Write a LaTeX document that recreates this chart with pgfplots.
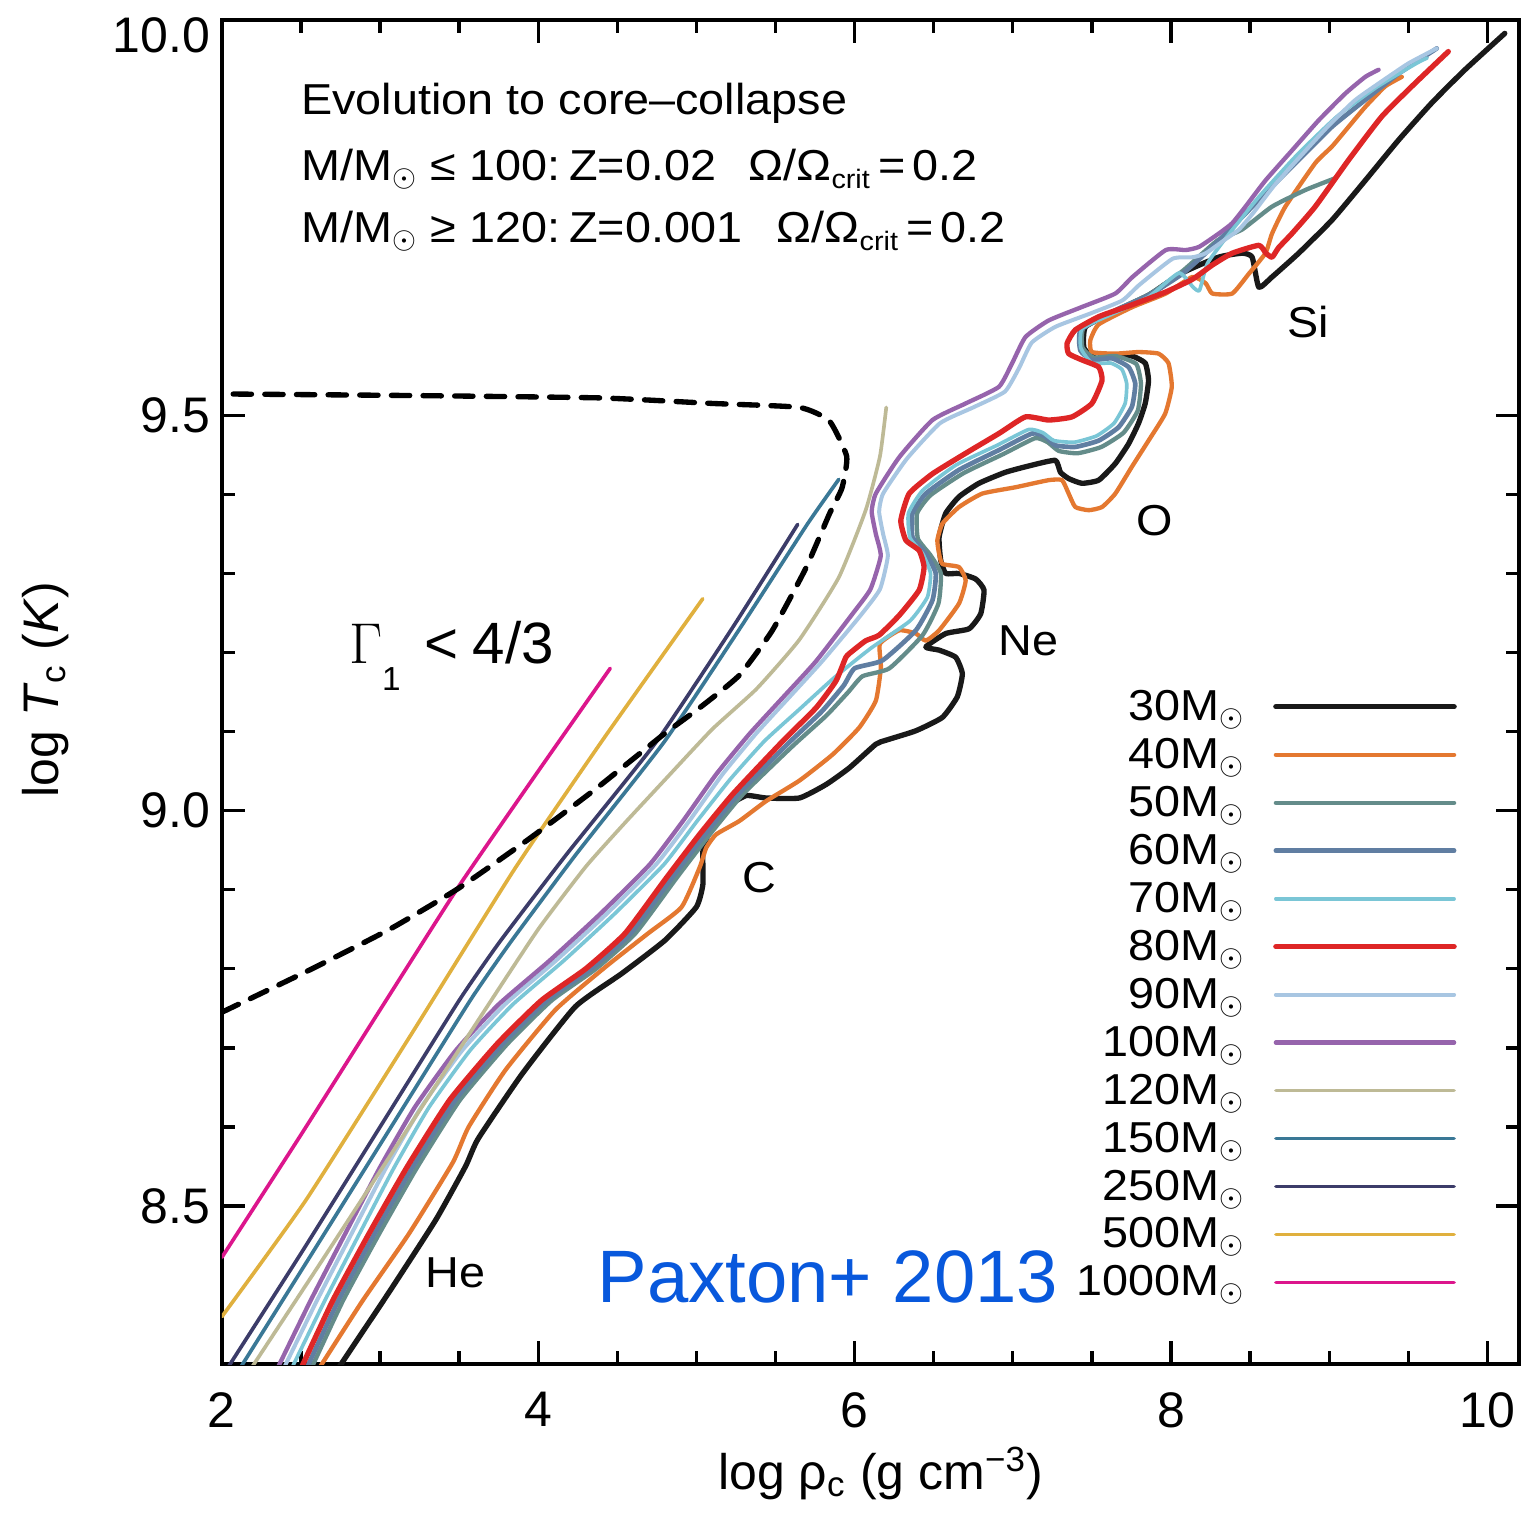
\documentclass[border=0pt]{standalone}
\usepackage{fontspec}
\setmainfont{Liberation Sans}
\newfontfamily\idl{Liberation Sans}[FakeStretch=1.08]
\usepackage{pgfplots}
\pgfplotsset{compat=1.18}

\definecolor{c30}{RGB}{25,25,25}
\definecolor{c40}{RGB}{228,120,48}
\definecolor{c50}{RGB}{100,140,138}
\definecolor{c60}{RGB}{96,126,162}
\definecolor{c70}{RGB}{122,198,214}
\definecolor{c80}{RGB}{222,38,38}
\definecolor{c90}{RGB}{168,198,226}
\definecolor{c100}{RGB}{150,100,172}
\definecolor{c120}{RGB}{190,186,150}
\definecolor{c150}{RGB}{58,120,150}
\definecolor{c250}{RGB}{60,60,105}
\definecolor{c500}{RGB}{224,176,62}
\definecolor{c1000}{RGB}{220,22,140}
\definecolor{paxblue}{RGB}{8,88,220}

\newcommand{\crit}{\raisebox{-2.5pt}{\fontsize{8}{8}\selectfont crit}}

\pgfplotsset{
  s30/.style={c30, line width=1.6pt},
  s40/.style={c40, line width=1.3pt},
  s50/.style={c50, line width=1.3pt},
  s60/.style={c60, line width=1.4pt},
  s70/.style={c70, line width=1.1pt},
  s80/.style={c80, line width=1.6pt},
  s90/.style={c90, line width=1.2pt},
  s100/.style={c100, line width=1.3pt},
  s120/.style={c120, line width=1.1pt},
  s150/.style={c150, line width=1.1pt},
  s250/.style={c250, line width=1.1pt},
  s500/.style={c500, line width=1.1pt},
  s1000/.style={c1000, line width=1.1pt},
}

\begin{document}
\begin{tikzpicture}
\begin{axis}[
  name=ax,
  scale only axis,
  width=389.4pt, height=403.5pt,
  xmin=2, xmax=10.2, ymin=8.3, ymax=10.0,
  xtick={2,4,6,8,10}, ytick={8.5,9.0,9.5},
  yticklabels={8.5,9.0,9.5},
  extra y ticks={10.0}, extra y tick labels={10.0},
  extra y tick style={yticklabel style={yshift=-4.5pt}},
  minor x tick num=3, minor y tick num=4,
  tick align=inside,
  major tick length=7pt, minor tick length=3.8pt,
  every tick/.style={black, line width=1pt},
  axis line style={line width=1.2pt},
  /pgf/number format/assume math mode=true,
  ticklabel style={font=\fontsize{15}{18}\selectfont},
  x tick label style={yshift=-5pt},
  xlabel={log ρ\textsubscript{c} (g cm\textsuperscript{−3})},
  ylabel={log \textit{T}\textsubscript{c} (\textit{K})},
  label style={font=\fontsize{15}{18}\selectfont},
  xlabel style={at={(axis description cs:0.508,-0.093)}, anchor=base},
  ylabel style={at={(axis description cs:-0.136,0.502)}, anchor=center},
  clip mode=individual,
  legend style={draw=none, fill=none, at={(axis description cs:0.952,0.503)}, anchor=north east,
    inner sep=0pt, outer sep=0pt, row sep=2.7pt, column sep=8.5pt,
    font=\idl\fontsize{13}{15}\selectfont,
    nodes={inner sep=0pt, text height=9.7pt, text depth=2pt}},
  legend cell align=right,
  legend plot pos=right,
  legend image code/.code={\draw[#1] (0pt,0.2pt) -- (53.5pt,0.2pt);},
  every axis plot/.append style={smooth, tension=0.3, line join=round, line cap=round},
]

% legend, lightest mass first
\addlegendimage{s30}\addlegendentry{30M$_\odot$}
\addlegendimage{s40}\addlegendentry{40M$_\odot$}
\addlegendimage{s50}\addlegendentry{50M$_\odot$}
\addlegendimage{s60}\addlegendentry{60M$_\odot$}
\addlegendimage{s70}\addlegendentry{70M$_\odot$}
\addlegendimage{s80}\addlegendentry{80M$_\odot$}
\addlegendimage{s90}\addlegendentry{90M$_\odot$}
\addlegendimage{s100}\addlegendentry{100M$_\odot$}
\addlegendimage{s120}\addlegendentry{120M$_\odot$}
\addlegendimage{s150}\addlegendentry{150M$_\odot$}
\addlegendimage{s250}\addlegendentry{250M$_\odot$}
\addlegendimage{s500}\addlegendentry{500M$_\odot$}
\addlegendimage{s1000}\addlegendentry{1000M$_\odot$}

% 30 Msun
\addplot[s30, forget plot] coordinates {
(2.72,8.29) (3.057,8.391) (3.351,8.482) (3.540,8.550) (3.620,8.585) (3.898,8.667) (4.234,8.752) (4.528,8.794) (4.801,8.836) (4.999,8.878) (5.041,8.907) (5.041,8.949) (5.083,8.974) (5.188,9.004) (5.314,9.019) (5.440,9.016) (5.651,9.016) (5.819,9.033) (5.966,9.054) (6.134,9.084) (6.197,9.089) (6.387,9.101) (6.555,9.118) (6.649,9.144) (6.681,9.173) (6.639,9.194) (6.534,9.203) (6.450,9.207) (6.576,9.224) (6.723,9.230) (6.797,9.249) (6.818,9.279) (6.765,9.293) (6.660,9.300) (6.576,9.300) (6.544,9.317) (6.534,9.346) (6.576,9.376) (6.660,9.397) (6.786,9.414) (6.954,9.428) (7.122,9.437) (7.269,9.443) (7.301,9.428) (7.353,9.420) (7.437,9.414) (7.543,9.418) (7.648,9.439) (7.732,9.464) (7.795,9.490) (7.837,9.515) (7.858,9.544) (7.837,9.566) (7.753,9.575) (7.627,9.576) (7.522,9.572) (7.45,9.585) (7.46,9.612) (7.65,9.632) (7.86,9.652) (8.07,9.680) (8.30,9.700) (8.45,9.705) (8.513,9.700) (8.555,9.662) (8.639,9.675) (8.807,9.705) (9.018,9.747) (9.228,9.797) (9.438,9.848) (9.648,9.895) (9.858,9.937) (10.11,9.983)};

% 40 Msun
\addplot[s40, forget plot] coordinates {
(2.60,8.29) (2.889,8.38) (3.183,8.465) (3.460,8.555) (3.560,8.600) (3.793,8.672) (4.108,8.748) (4.423,8.802) (4.696,8.845) (4.906,8.878) (5.020,8.928) (5.062,8.953) (5.125,8.970) (5.272,8.987) (5.440,9.012) (5.651,9.038) (5.861,9.071) (6.029,9.105) (6.134,9.139) (6.166,9.181) (6.160,9.211) (6.282,9.228) (6.387,9.224) (6.450,9.215) (6.534,9.228) (6.660,9.262) (6.702,9.291) (6.660,9.308) (6.555,9.312) (6.534,9.325) (6.523,9.342) (6.555,9.363) (6.660,9.384) (6.807,9.401) (7.017,9.409) (7.227,9.418) (7.311,9.418) (7.353,9.401) (7.395,9.384) (7.480,9.380) (7.564,9.384) (7.648,9.401) (7.753,9.435) (7.858,9.468) (7.963,9.502) (8.005,9.536) (7.984,9.566) (7.921,9.578) (7.795,9.580) (7.648,9.578) (7.50,9.580) (7.49,9.595) (7.543,9.615) (7.757,9.637) (7.967,9.654) (8.135,9.675) (8.219,9.667) (8.261,9.654) (8.387,9.654) (8.492,9.679) (8.597,9.705) (8.639,9.730) (8.723,9.764) (8.912,9.819) (9.018,9.840) (9.123,9.865) (9.228,9.890) (9.354,9.916) (9.459,9.928)};

% 50 Msun
\addplot[s50, forget plot] coordinates {
(2.555,8.29) (2.765,8.38) (2.995,8.465) (3.235,8.549) (3.505,8.634) (3.805,8.705) (4.085,8.76) (4.365,8.80) (4.615,8.845) (4.875,8.915) (5.085,8.97) (5.295,9.021) (5.61,9.082) (5.82,9.120) (5.96,9.150) (6.05,9.170) (6.22,9.18) (6.43,9.222) (6.53,9.262) (6.545,9.300) (6.48,9.323) (6.40,9.344) (6.395,9.376) (6.48,9.399) (6.69,9.427) (6.94,9.451) (7.14,9.471) (7.22,9.466) (7.29,9.455) (7.41,9.452) (7.56,9.460) (7.70,9.478) (7.79,9.506) (7.81,9.540) (7.78,9.565) (7.65,9.575) (7.51,9.573) (7.44,9.586) (7.45,9.612) (7.66,9.634) (7.87,9.654) (8.07,9.682) (8.20,9.705) (8.30,9.722) (8.45,9.735) (8.639,9.764) (8.85,9.785) (9.04,9.80)};

% 60 Msun
\addplot[s60, forget plot] coordinates {
(2.525,8.29) (2.735,8.38) (2.965,8.465) (3.205,8.549) (3.475,8.634) (3.775,8.705) (4.055,8.76) (4.335,8.80) (4.585,8.845) (4.845,8.915) (5.055,8.97) (5.265,9.021) (5.58,9.085) (5.79,9.125) (5.93,9.158) (6.0,9.18) (6.176,9.19) (6.387,9.228) (6.492,9.266) (6.513,9.300) (6.45,9.325) (6.366,9.346) (6.366,9.376) (6.45,9.401) (6.66,9.431) (6.912,9.456) (7.122,9.477) (7.206,9.473) (7.269,9.462) (7.395,9.460) (7.543,9.468) (7.669,9.485) (7.753,9.511) (7.774,9.540) (7.732,9.561) (7.627,9.572) (7.50,9.570) (7.427,9.582) (7.43,9.608) (7.651,9.633) (7.862,9.652) (8.072,9.679) (8.219,9.705) (8.387,9.738) (8.597,9.781) (8.807,9.823) (9.018,9.865) (9.228,9.899) (9.438,9.932) (9.68,9.964)};

% 70 Msun
\addplot[s70, forget plot] coordinates {
(2.43,8.29) (2.65,8.38) (2.87,8.465) (3.09,8.549) (3.31,8.625) (3.57,8.697) (3.84,8.755) (4.16,8.81) (4.48,8.869) (4.795,8.932) (5.005,8.987) (5.215,9.040) (5.43,9.088) (5.65,9.128) (5.87,9.168) (6.10,9.205) (6.35,9.240) (6.46,9.27) (6.48,9.30) (6.43,9.325) (6.35,9.345) (6.34,9.376) (6.43,9.405) (6.64,9.437) (6.90,9.462) (7.10,9.482) (7.19,9.478) (7.26,9.468) (7.39,9.466) (7.53,9.474) (7.64,9.490) (7.71,9.515) (7.72,9.540) (7.69,9.558) (7.62,9.566) (7.50,9.566) (7.43,9.585) (7.44,9.610) (7.65,9.630) (7.86,9.650) (8.05,9.680) (8.14,9.662) (8.18,9.658) (8.23,9.692) (8.35,9.725) (8.55,9.775) (8.80,9.83) (9.05,9.878) (9.30,9.915) (9.55,9.945) (9.62,9.952)};

% 80 Msun
\addplot[s80, forget plot] coordinates {
(2.49,8.29) (2.70,8.38) (2.93,8.465) (3.17,8.549) (3.44,8.634) (3.74,8.705) (4.02,8.76) (4.30,8.80) (4.55,8.845) (4.81,8.915) (5.02,8.97) (5.23,9.021) (5.546,9.088) (5.756,9.130) (5.882,9.164) (5.945,9.194) (5.987,9.202) (6.071,9.215) (6.155,9.222) (6.282,9.247) (6.408,9.279) (6.439,9.308) (6.408,9.329) (6.324,9.342) (6.292,9.367) (6.345,9.401) (6.492,9.426) (6.702,9.452) (6.912,9.477) (7.080,9.498) (7.227,9.494) (7.374,9.498) (7.500,9.515) (7.564,9.544) (7.543,9.561) (7.437,9.570) (7.353,9.578) (7.343,9.591) (7.395,9.608) (7.546,9.625) (7.757,9.640) (7.967,9.656) (8.135,9.672) (8.261,9.690) (8.387,9.705) (8.555,9.715) (8.600,9.705) (8.639,9.700) (8.680,9.712) (8.765,9.730) (8.912,9.764) (9.123,9.823) (9.333,9.878) (9.543,9.920) (9.753,9.960)};

% 90 Msun
\addplot[s90, forget plot] coordinates {
(2.38,8.29) (2.60,8.38) (2.82,8.465) (3.04,8.549) (3.26,8.625) (3.52,8.697) (3.79,8.755) (4.11,8.81) (4.43,8.869) (4.745,8.932) (4.955,8.987) (5.165,9.046) (5.375,9.097) (5.585,9.143) (5.795,9.189) (6.03,9.245) (6.16,9.28) (6.21,9.322) (6.18,9.350) (6.155,9.378) (6.18,9.401) (6.33,9.445) (6.54,9.490) (6.75,9.510) (6.95,9.530) (7.04,9.560) (7.12,9.592) (7.27,9.612) (7.48,9.628) (7.69,9.645) (7.80,9.665) (8.01,9.698) (8.14,9.700) (8.22,9.705) (8.34,9.722) (8.43,9.735) (8.52,9.756) (8.65,9.790) (8.82,9.828) (8.99,9.865) (9.16,9.898) (9.30,9.918) (9.50,9.945) (9.68,9.964)};

% 100 Msun
\addplot[s100, forget plot] coordinates {
(2.34,8.29) (2.56,8.38) (2.78,8.465) (3.0,8.549) (3.22,8.625) (3.48,8.697) (3.75,8.755) (4.07,8.81) (4.39,8.869) (4.705,8.932) (4.915,8.987) (5.125,9.046) (5.335,9.097) (5.546,9.143) (5.756,9.189) (5.987,9.249) (6.10,9.28) (6.165,9.322) (6.134,9.350) (6.108,9.378) (6.134,9.401) (6.282,9.447) (6.492,9.494) (6.702,9.515) (6.912,9.536) (6.996,9.566) (7.080,9.599) (7.227,9.620) (7.437,9.637) (7.648,9.654) (7.757,9.675) (7.967,9.709) (8.093,9.709) (8.177,9.713) (8.303,9.730) (8.387,9.743) (8.471,9.764) (8.597,9.797) (8.765,9.835) (8.933,9.873) (9.102,9.907) (9.228,9.928) (9.312,9.937)};

% 120 Msun
\addplot[s120, forget plot] coordinates {
(2.17,8.29) (2.63,8.43) (3.15,8.59) (3.67,8.75) (4.0,8.85) (4.30,8.929) (4.55,8.985) (4.81,9.041) (5.10,9.103) (5.38,9.154) (5.65,9.216) (5.90,9.295) (6.07,9.38) (6.16,9.448) (6.20,9.51)};

% 150 Msun
\addplot[s150, forget plot] coordinates {
(2.10,8.29) (2.57,8.44) (3.07,8.6) (3.57,8.76) (3.83,8.835) (4.24,8.945) (4.80,9.088) (5.28,9.232) (5.70,9.362) (5.90,9.419)};

% 250 Msun
\addplot[s250, forget plot] coordinates {
(2.02,8.29) (2.5,8.44) (3.0,8.6) (3.5,8.76) (3.76,8.835) (4.18,8.945) (4.75,9.088) (5.23,9.232) (5.64,9.362)};

% 500 Msun
\addplot[s500, forget plot] coordinates {
(2.0,8.36) (2.53,8.507) (3.2,8.718) (3.85,8.926) (4.42,9.093) (5.04,9.268)};

% 1000 Msun
\addplot[s1000, forget plot] coordinates {
(2.0,8.435) (2.5,8.59) (3.0,8.748) (3.5,8.905) (4.0,9.05) (4.455,9.18)};

% Gamma_1 < 4/3 boundary
\addplot[black, line width=1.6pt, dash pattern=on 5.5pt off 4pt, forget plot, smooth, tension=0.3] coordinates {
(2.0,8.745) (2.57,8.80) (3.07,8.851) (3.49,8.901) (3.94,8.964) (4.36,9.027) (4.79,9.096) (5.02,9.13) (5.27,9.171) (5.48,9.228) (5.69,9.306) (5.84,9.375) (5.92,9.408) (5.95,9.448) (5.84,9.493) (5.65,9.51) (5.10,9.515) (4.39,9.522) (3.2,9.525) (2.0,9.527)};

% annotations
\node[anchor=base west, font=\idl\fontsize{13}{15}\selectfont, inner sep=0pt] at (axis cs:2.498,9.880) {Evolution to core–collapse};
\node[anchor=base west, font=\idl\fontsize{13}{15}\selectfont, inner sep=0pt] at (axis cs:2.498,9.797) {M/M$_\odot$ ≤ 100:\hspace{0.2em}Z=0.02\hspace{0.75em}Ω/Ω\crit\hspace{0.2em}=\hspace{0.15em}0.2};
\node[anchor=base west, font=\idl\fontsize{13}{15}\selectfont, inner sep=0pt] at (axis cs:2.498,9.719) {M/M$_\odot$ ≥ 120:\hspace{0.2em}Z=0.001\hspace{0.8em}Ω/Ω\crit\hspace{0.2em}=\hspace{0.15em}0.2};
\node[anchor=base west, font=\fontsize{17.5}{20}\selectfont, inner sep=0pt] at (axis cs:2.80,9.186) {$\Gamma$\raisebox{-8pt}{\fontsize{10}{12}\selectfont 1}\hspace{0.4em}<\hspace{0.25em}4/3};
\node[font=\idl\fontsize{13}{15}\selectfont] at (axis cs:3.475,8.415) {He};
\node[font=\idl\fontsize{13}{15}\selectfont] at (axis cs:5.40,8.915) {C};
\node[font=\idl\fontsize{13}{15}\selectfont] at (axis cs:7.10,9.215) {Ne};
\node[font=\idl\fontsize{13}{15}\selectfont] at (axis cs:7.90,9.367) {O};
\node[font=\idl\fontsize{13}{15}\selectfont] at (axis cs:8.866,9.618) {Si};
\node[anchor=base west, font=\fontsize{22.3}{25}\selectfont, text=paxblue, inner sep=0pt] at (axis cs:4.371,8.378) {Paxton+ 2013};
\end{axis}
\path (ax.south west) ++(-66.6pt,-44.4pt) coordinate (bbl);
\path (ax.north east) ++(4.5pt,6pt) coordinate (btr);
\pgfresetboundingbox
\path[use as bounding box] (bbl) rectangle (btr);
\end{tikzpicture}
\end{document}
